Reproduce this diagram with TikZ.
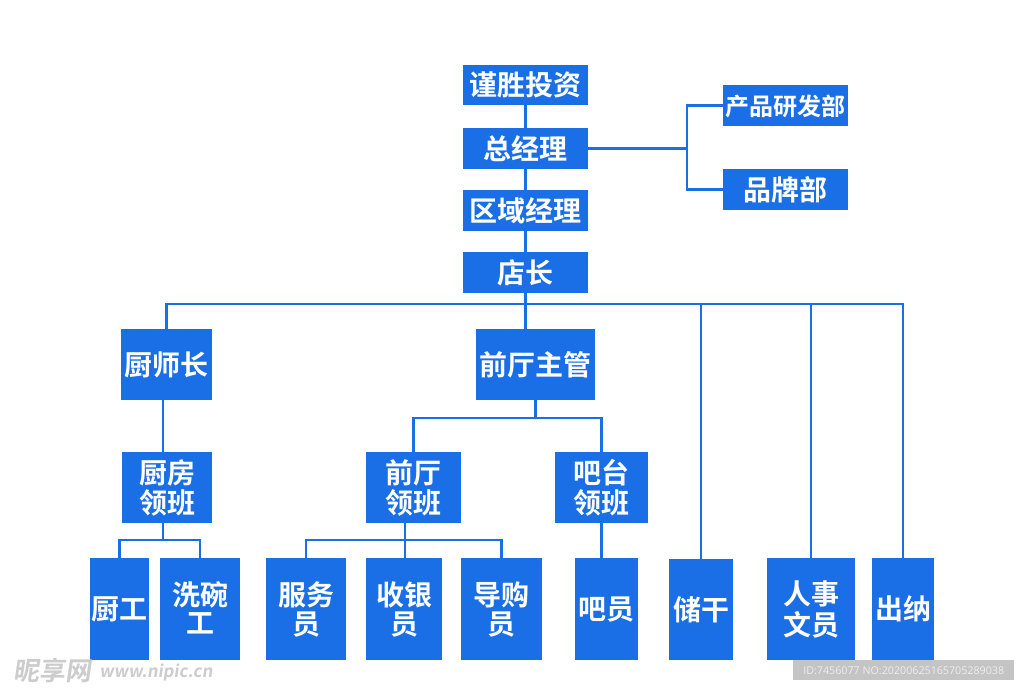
\documentclass[tikz,border=0pt]{standalone}
\usepackage{fontspec}
\setmainfont{Noto Sans CJK SC}[BoldFont={Noto Sans CJK SC Bold}]
\newfontfamily\idfont{Open Sans}
\definecolor{boxblue}{HTML}{1A6FE6}
\definecolor{wmgrey}{HTML}{CCCCCC}
\definecolor{idbar}{HTML}{C4C4C4}
\definecolor{idtext}{HTML}{EEEEEE}
\tikzset{
  org/.style={fill=boxblue,draw=none,text=white,inner sep=0pt,align=center,font=\bfseries\fontsize{#1}{30.5}\selectfont},
  org/.default=28,
  link/.style={draw=boxblue,line width=2.6pt,line join=miter},
}
% \bx{name}{x0}{y0}{x1}{y1}{size}{text}
\newcommand{\bx}[7]{\node[org=#6,minimum width=#4pt-#2pt,minimum height=#5pt-#3pt] (#1) at ({(#2+#4)/2*1pt},{-(#3+#5)/2*1pt}) {\raisebox{-9.7pt}[0pt][0pt]{\begin{tabular}{@{}c@{}}#7\end{tabular}}};}
\newcommand{\nl}{\\[-2.5pt]}
\begin{document}
\begin{tikzpicture}[x=1pt,y=-1pt]
\useasboundingbox (0,0) rectangle (1024,690);
\fill[white] (0,0) rectangle (1024,690);
% connector junction coordinates
\coordinate (busL) at (166.5,304);
\coordinate (busC) at (701,304);
\coordinate (busH) at (811,304);
\coordinate (busR) at (903,304);
\coordinate (sideJ) at (687,148.5);
\coordinate (fohJ) at (535.5,418);
\coordinate (kitJ) at (163,540);
\coordinate (frontJ) at (405,540);
\coordinate (chefOut) at (163,400);
\coordinate (kitIn) at (163,452);
\coordinate (fohIn) at (525.5,329);
\coordinate (fohOut) at (535.5,400);
\coordinate (kitOut) at (163,523);
\coordinate (frontOut) at (405,523);
\coordinate (barOut) at (601.5,523);
\coordinate (barIn) at (601.5,558);
% boxes
\bx{a}{463}{65}{588}{105}{28}{谨胜投资}
\bx{b}{463}{128}{588}{169}{28}{总经理}
\bx{c}{463}{190}{588}{231}{28}{区域经理}
\bx{d}{463}{252}{588}{293}{28}{店长}
\bx{p}{723}{85}{848}{126}{24}{产品研发部}
\bx{q}{723}{169}{848}{210}{28}{品牌部}
\bx{chef}{121}{329}{212}{400}{28}{厨师长}
\bx{foh}{476}{329}{595}{400}{28}{前厅主管}
\bx{kit}{122}{452}{212}{523}{28}{厨房\nl 领班}
\bx{front}{366}{452}{461}{523}{28}{前厅\nl 领班}
\bx{bar}{555}{452}{648}{523}{28}{吧台\nl 领班}
\bx{cook}{90}{558}{149}{660}{28}{厨工}
\bx{wash}{160}{558}{240}{660}{28}{洗碗\nl 工}
\bx{serve}{266}{558}{346}{660}{28}{服务\nl 员}
\bx{cash}{366}{558}{442}{660}{28}{收银\nl 员}
\bx{guide}{461}{558}{542}{660}{28}{导购\nl 员}
\bx{barman}{575}{558}{638}{660}{28}{吧员}
\bx{res}{669}{559}{733}{660}{28}{储干}
\bx{hr}{767}{558}{855}{660}{28}{人事\nl 文员}
\bx{pay}{872}{558}{934}{660}{28}{出纳}
% connectors
\draw[link] (a.south) -- (b.north);
\draw[link] (b.south) -- (c.north);
\draw[link] (c.south) -- (d.north);
\draw[link] (d.south) -- (fohIn);
\draw[link] (b.east) -- (sideJ);
\draw[link] (p.west) -| (sideJ) |- (q.west);
\draw[link] (chef.north) -- (busL) -- (busR) -- (pay.north -| busR);
\draw[link] (busC) -- (res.north);
\draw[link] (busH) -- (hr.north -| busH);
\draw[link] (chefOut) -- (kitIn);
\draw[link] (fohOut) -- (fohJ);
\draw[link] (front.north) |- (fohJ) -| (bar.north);
\draw[link] (kitOut) -- (kitJ);
\draw[link] (cook.north) |- (kitJ) -| (wash.north);
\draw[link] (frontOut) -- (frontJ);
\draw[link] (serve.north) |- (frontJ) -| (guide.north);
\draw[link] (cash.north -| frontJ) -- (frontJ);
\draw[link] (barOut) -- (barIn);
% watermark and id bar
\node[text=wmgrey,font=\bfseries\fontsize{26}{26}\selectfont,anchor=west,inner sep=0pt,xslant=0.15] (wmcn) at (15,671) {昵享网};
\node[text=wmgrey,font=\bfseries\fontsize{16.8}{17}\selectfont,anchor=west,inner sep=0pt,xslant=0.15] (wmen) at (100,672) {www.nipic.cn};
\node[fill=idbar,minimum width=221pt,minimum height=20pt,inner sep=0pt,anchor=north west] (idb) at (793,660) {};
\node[text=idtext,font=\idfont\fontsize{10.7}{12}\selectfont,inner sep=0pt] (idt) at (idb.center) {ID:7456077 NO:20200625165705289038};
\end{tikzpicture}
\end{document}
